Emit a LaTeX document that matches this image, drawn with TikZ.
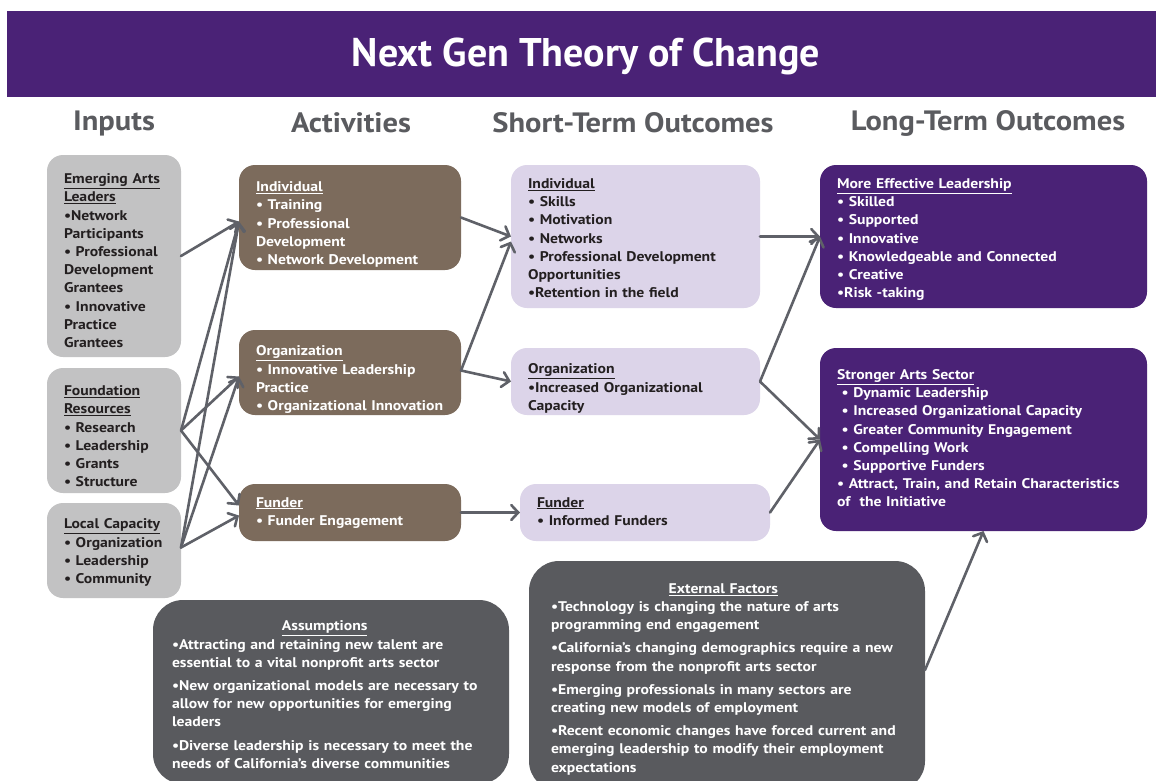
\documentclass[tikz,border=0pt]{standalone}
\usepackage{fontspec}
\setmainfont{PT Sans}[FakeStretch=1.12]
\newfontfamily\titlefont{PT Sans}
\newfontfamily\headfont{PT Sans}[FakeStretch=1.09]
\usetikzlibrary{arrows.meta}
\definecolor{purp}{HTML}{4A2276}
\definecolor{brwn}{HTML}{7C6B5C}
\definecolor{ingray}{HTML}{C2C2C3}
\definecolor{lav}{HTML}{DCD4E9}
\definecolor{dgray}{HTML}{595A5E}
\definecolor{arrgray}{HTML}{5F6168}
\definecolor{hdgray}{HTML}{5A5B5F}
\definecolor{txt}{HTML}{231F20}
\newcommand\boxlines[2][0pt]{\begin{tabular}{@{}l@{}}\noalign{\vskip #1}#2\\\noalign{\vskip -#1}\end{tabular}}
\newcommand\hd[1]{\underline{#1}}
\tikzset{
  box/.style={rounded corners=16pt, align=left, anchor=north west, inner xsep=17pt,
    inner ysep=3pt, outer sep=0pt, font=\fontsize{14}{18.2}\selectfont\bfseries},
  inbox/.style={box, fill=ingray, text=txt},
  actbox/.style={box, fill=brwn, text=white},
  stbox/.style={box, fill=lav, text=txt},
  ltbox/.style={box, fill=purp, text=white},
  botbox/.style={box, fill=dgray, text=white, rounded corners=30pt},
  hdr/.style={font=\headfont\fontsize{28}{30}\selectfont\bfseries, text=hdgray},
  arr/.style={draw=arrgray, line width=2.6pt, line cap=round,
    -{Straight Barb[length=7pt,width=15pt,line cap=round]}}
}
\begin{document}
\begin{tikzpicture}[x=1pt,y=-1pt]
\useasboundingbox (0,0) rectangle (1156,780);
\clip (0,0) rectangle (1156,780);
\fill[white] (0,0) rectangle (1156,780);
% title bar
\fill[purp] (7,11) rectangle (1156,97);
\node[text=white, font=\titlefont\fontsize{40}{42}\selectfont\bfseries] (title) at (586,56) {Next Gen Theory of Change};
% column headers
\node[hdr] (hin) at (114,123) {Inputs};
\node[hdr] (hact) at (351,123) {Activities};
\node[hdr] (hst) at (633,123) {Short-Term Outcomes};
\node[hdr] (hlt) at (988,123) {Long-Term Outcomes};
% inputs
\node[inbox, text width=100pt, minimum height=202pt] (emerg) at (47,155) {\boxlines[6pt]{%
\hd{Emerging Arts}\\ \hd{Leaders}\\ •Network\\ Participants\\ • Professional\\ Development\\ Grantees\\ • Innovative\\ Practice\\ Grantees}};
\node[inbox, text width=100pt, minimum height=125pt] (found) at (47,368) {\boxlines[7pt]{%
\hd{Foundation}\\ \hd{Resources}\\ • Research\\ • Leadership\\ • Grants\\ • Structure}};
\node[inbox, text width=100pt, minimum height=95pt] (local) at (47,503) {\boxlines[2pt]{%
\hd{Local Capacity}\\ • Organization\\ • Leadership\\ • Community}};
% activities
\node[actbox, text width=188pt, minimum height=105pt] (actind) at (239,165) {\boxlines[7pt]{%
\hd{Individual}\\ • Training\\ • Professional\\ Development\\ • Network Development}};
\node[actbox, text width=188pt, minimum height=85pt] (actorg) at (239,330) {\boxlines[7pt]{%
\hd{Organization}\\ • Innovative Leadership\\ Practice\\ • Organizational Innovation}};
\node[actbox, text width=188pt, minimum height=57pt] (actfun) at (239,484) {\boxlines{%
\hd{Funder}\\ • Funder Engagement}};
% short-term outcomes
\node[stbox, text width=215pt, minimum height=143pt] (stind) at (511,165) {\boxlines[3pt]{%
\hd{Individual}\\ • Skills\\ • Motivation\\ • Networks\\ • Professional Development\\ Opportunities\\ •Retention in the field}};
\node[stbox, text width=215pt, minimum height=67pt] (storg) at (511,348) {\boxlines[7pt]{%
\hd{Organization}\\ •Increased Organizational\\ Capacity}};
\node[stbox, text width=216pt, minimum height=57pt] (stfun) at (520,484) {\boxlines{%
\hd{Funder}\\ • Informed Funders}};
% long-term outcomes
\node[ltbox, text width=293pt, minimum height=143pt] (mel) at (820,165) {\boxlines[3pt]{%
\hd{More Effective Leadership}\\ • Skilled\\ • Supported\\ • Innovative\\ • Knowledgeable and Connected\\ • Creative\\ •Risk -taking}};
\node[ltbox, text width=293pt, minimum height=183pt] (sas) at (820,348) {\boxlines{%
\hd{Stronger Arts Sector}\\ \ • Dynamic Leadership\\ \ • Increased Organizational Capacity\\ \ • Greater Community Engagement\\ \ • Compelling Work\\ \ • Supportive Funders\\ • Attract, Train, and Retain Characteristics\\ of \ the Initiative}};
% bottom boxes
\node[botbox, inner xsep=19pt, text width=318pt, minimum height=184pt] (assum) at (153,600) {\begin{tabular}{@{}l@{}}\noalign{\vskip 4pt}%
\multicolumn{1}{@{}c@{}}{\hd{Assumptions}}\\
•Attracting and retaining new talent are\\ essential to a vital nonprofit arts sector\\[5pt]
•New organizational models are necessary to\\ allow for new opportunities for emerging\\ leaders\\[5pt]
•Diverse leadership is necessary to meet the\\ needs of California’s diverse communities\\\noalign{\vskip -4pt}\end{tabular}};
\node[botbox, inner xsep=22pt, text width=352pt, minimum height=230pt] (ext) at (529,561) {\begin{tabular}{@{}l@{}}\noalign{\vskip 3pt}%
\multicolumn{1}{@{}c@{}}{\hd{External Factors}}\\
•Technology is changing the nature of arts\\ programming end engagement\\[5pt]
•California’s changing demographics require a new\\ response from the nonprofit arts sector\\[5pt]
•Emerging professionals in many sectors are\\ creating new models of employment\\[5pt]
•Recent economic changes have forced current and\\ emerging leadership to modify their employment\\ expectations\\\noalign{\vskip -3pt}\end{tabular}};
% connectors: inputs -> activities
\draw[arr] (emerg.east) -- ([yshift=-4pt]actind.west);
\draw[arr] (found.east) -- ([yshift=-4pt]actind.west);
\draw[arr] (found.east) -- ([yshift=-4pt]actorg.west);
\draw[arr] (found.east) -- ([yshift=7pt]actfun.west);
\draw[arr] ([yshift=3pt]local.east) -- ([yshift=-4pt]actind.west);
\draw[arr] ([yshift=3pt]local.east) -- ([yshift=-4pt]actorg.west);
\draw[arr] ([yshift=3pt]local.east) -- ([yshift=-3pt]actfun.west);
% activities -> short-term
\draw[arr] (actind.east) -- (stind.west);
\draw[arr] ([yshift=2pt]actorg.east) -- ([yshift=-5pt]stind.west);
\draw[arr] ([yshift=2pt]actorg.east) -- (storg.west);
\draw[arr] (actfun.east) -- (stfun.west);
% short-term -> long-term
\draw[arr] (stind.east) -- (mel.west);
\draw[arr] (storg.east) -- (mel.west);
\draw[arr] (storg.east) -- (sas.west);
\draw[arr] (stfun.east) -- (sas.west);
\draw[arr] ([yshift=6pt]ext.east) -- (sas.south);
\end{tikzpicture}
\end{document}
